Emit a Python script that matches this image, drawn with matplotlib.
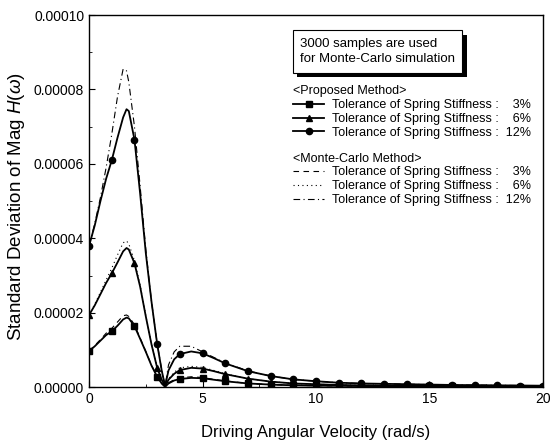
import matplotlib
matplotlib.use("Agg")
import matplotlib.pyplot as plt
import matplotlib.patheffects as pe
import numpy as np

plt.rcParams['font.family'] = ['Liberation Sans', 'DejaVu Sans']
plt.rcParams['mathtext.fontset'] = 'custom'
plt.rcParams['mathtext.it'] = 'Liberation Sans:italic'
plt.rcParams['mathtext.rm'] = 'Liberation Sans'

# Driving angular velocity (rad/s)
omega = [0, 0.25, 0.5, 0.75, 1, 1.25, 1.5, 1.65, 1.75, 2, 2.25, 2.5, 2.75, 3,
         3.2, 3.35, 3.5, 3.75, 4, 4.5, 5, 5.5, 6, 7, 8, 9, 10, 11, 12, 13, 14,
         15, 16, 17, 18, 19, 20]

# Standard deviation (x 1e-6) - proposed method
prop_3 = [9.7, 11.0, 12.5, 14.0, 15.0, 16.5, 18.2, 18.7, 18.5, 16.4, 13.0, 9.5, 5.8, 2.8,
          1.0, 0.1, 1.0, 1.8, 2.2, 2.5, 2.4, 2.0, 1.6, 1.0, 0.7, 0.5, 0.4, 0.35, 0.3, 0.28,
          0.25, 0.22, 0.2, 0.18, 0.15, 0.12, 0.1]
prop_6 = [19.4, 22.0, 25.0, 28.0, 30.6, 33.5, 36.5, 37.4, 37.0, 33.3, 27.0, 19.0, 11.5, 5.2,
          2.0, 0.2, 2.0, 3.6, 4.6, 5.2, 5.0, 4.3, 3.5, 2.3, 1.5, 1.0, 0.8, 0.6, 0.5, 0.45,
          0.4, 0.35, 0.3, 0.28, 0.25, 0.22, 0.2]
prop_12 = [38.0, 43.5, 50.0, 56.0, 61.0, 67.0, 72.5, 74.7, 74.2, 66.5, 52.0, 36.0, 23.0, 11.6,
           4.5, 0.3, 4.5, 7.5, 8.9, 9.6, 9.1, 7.8, 6.4, 4.3, 3.0, 2.1, 1.6, 1.2, 1.0, 0.9,
           0.8, 0.7, 0.6, 0.55, 0.5, 0.45, 0.4]

# Monte-Carlo method (x 1e-6)
mc_3 = [9.7, 11.2, 12.8, 14.5, 15.8, 17.5, 19.2, 19.4, 19.0, 16.8, 13.2, 9.6, 5.9, 2.9,
        1.0, 0.1, 1.2, 2.0, 2.5, 2.8, 2.6, 2.1, 1.7, 1.0, 0.7, 0.5, 0.4, 0.35, 0.3, 0.28,
        0.25, 0.22, 0.2, 0.18, 0.15, 0.12, 0.1]
mc_6 = [19.4, 22.3, 25.5, 28.8, 32.0, 35.5, 38.8, 39.3, 38.5, 34.0, 27.4, 19.2, 11.6, 5.3,
        2.0, 0.2, 2.3, 4.0, 5.2, 5.6, 5.3, 4.5, 3.6, 2.3, 1.5, 1.0, 0.8, 0.6, 0.5, 0.45,
        0.4, 0.35, 0.3, 0.28, 0.25, 0.22, 0.2]
mc_12 = [38.0, 44.0, 51.0, 59.0, 68.0, 78.0, 85.5, 85.0, 82.0, 70.0, 54.0, 37.0, 23.0, 11.8,
         4.6, 0.3, 6.0, 9.5, 11.0, 11.0, 9.5, 8.0, 6.5, 4.4, 3.0, 2.1, 1.6, 1.2, 1.0, 0.9,
         0.8, 0.7, 0.6, 0.55, 0.5, 0.45, 0.4]

labels = ["Tolerance of Spring Stiffness :    3%",
          "Tolerance of Spring Stiffness :    6%",
          "Tolerance of Spring Stiffness :  12%"]

x = np.array(omega)
mk_idx = [i for i, v in enumerate(omega) if float(v).is_integer()]

fig = plt.figure(figsize=(5.5, 4.43), dpi=100)
ax = fig.add_axes([0.162, 0.126, 0.825, 0.84])

prop_handles = []
for ys, m, lab in zip([prop_3, prop_6, prop_12], ['s', '^', 'o'], labels):
    h, = ax.plot(x, np.array(ys) * 1e-6, color='black', lw=1.3, marker=m, ms=4.5,
                 markevery=mk_idx, label=lab)
    prop_handles.append(h)

mc_handles = []
for ys, ls, lab in zip([mc_3, mc_6, mc_12], [(0, (5, 4)), (0, (1, 3)), (0, (6, 3, 1, 3))], labels):
    h, = ax.plot(x, np.array(ys) * 1e-6, color='black', lw=0.8, linestyle=ls, label=lab)
    mc_handles.append(h)

ax.set_xlim(0, 20)
ax.set_ylim(0, 0.0001)
ax.set_xticks([0, 5, 10, 15, 20])
ax.set_xticks(np.arange(0, 20.1, 2.5), minor=True)
yt = [0, 0.00002, 0.00004, 0.00006, 0.00008, 0.0001]
ax.set_yticks(yt)
ax.set_yticklabels(["%.5f" % v for v in yt])
ax.set_yticks(np.arange(0, 0.000101, 0.00001), minor=True)
ax.tick_params(which='both', direction='in', labelsize=10, top=False, right=False)
ax.tick_params(which='major', length=4)
ax.tick_params(which='minor', length=2.5)
for s in ax.spines.values():
    s.set_linewidth(1.0)

ax.set_xlabel("Driving Angular Velocity (rad/s)", fontsize=12, labelpad=14)
ax.set_ylabel(r"Standard Deviation of Mag $H(\omega)$", fontsize=13.5)
ax.yaxis.set_label_coords(-0.137, 0.484)

t = ax.text(0.465, 0.902, "3000 samples are used\nfor Monte-Carlo simulation",
            transform=ax.transAxes, fontsize=9.5, va='center', ha='left', linespacing=1.4,
            bbox=dict(boxstyle='square,pad=0.55', fc='white', ec='black', lw=0.8))
t.get_bbox_patch().set_path_effects([pe.SimplePatchShadow(offset=(3, -3), shadow_rgbFace='black', alpha=1.0), pe.Normal()])

common = dict(loc='upper left', frameon=False, fontsize=9, title_fontsize=9,
              handlelength=2.5, handletextpad=0.65, labelspacing=0.15,
              alignment='left', borderpad=0.2)
leg1 = ax.legend(handles=prop_handles, title="<Proposed Method>",
                 bbox_to_anchor=(0.43, 0.835), **common)
ax.add_artist(leg1)
leg2 = ax.legend(handles=mc_handles, title="<Monte-Carlo Method>",
                 bbox_to_anchor=(0.43, 0.654), **common)

fig.savefig("out.png", dpi=100)
